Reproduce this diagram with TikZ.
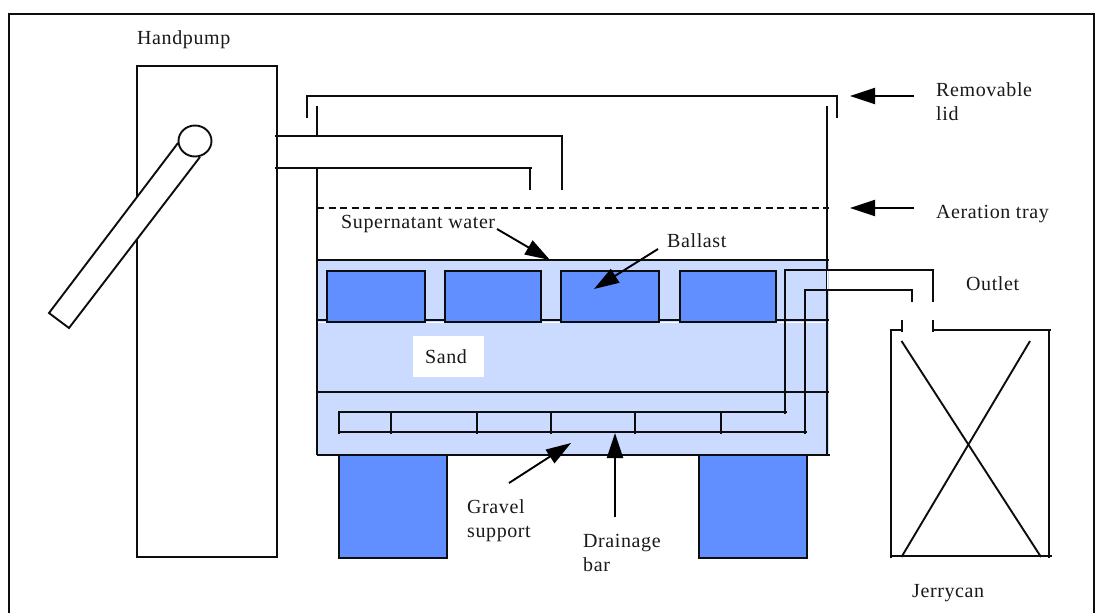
\documentclass[tikz,border=0pt]{standalone}
\usepackage{fontspec}
\setmainfont[LetterSpace=3]{Liberation Serif}
\usetikzlibrary{arrows.meta,shapes.geometric}
\definecolor{lightwater}{RGB}{203,218,255}
\definecolor{deepblue}{RGB}{97,143,255}
\tikzset{
  ln/.style={line width=1.9pt,draw=black!95,line cap=butt,outer sep=0},
  fillbox/.style={ln,fill=deepblue},
  callout/.style={line width=1.9pt,draw=black,-{Triangle[length=25,width=16]}},
  lbl/.style={font=\fontsize{20}{24}\selectfont,inner sep=0,text=black!90,anchor=base west}
}
\begin{document}
\begin{tikzpicture}[x=1pt,y=-1pt]
\useasboundingbox (0,0) rectangle (1103,613);
\fill[white] (0,0) rectangle (1103,613);
% frame
\draw[ln] (9,613) -- (9,14) -- (1094,14) -- (1094,613);
% pump body
\node[ln,draw,minimum width=140,minimum height=491,inner sep=0,anchor=north west] (pump) at (137,66) {};
% handle
\coordinate (ha) at (49,313); \coordinate (hb) at (69,328); \coordinate (hc) at (200,157); \coordinate (hd) at (178,143);
\fill[white] (ha) -- (hb) -- (hc) -- (hd) -- cycle;
\draw[ln] (hd) -- (ha) -- (hb) -- (hc);
\node[ln,draw,ellipse,fill=white,minimum width=33,minimum height=31,inner sep=0] (pivot) at (195,141) {};
% water
\fill[lightwater] (317,260) rectangle (829,455);
% tank
\draw[ln] (317,106) -- (317,137);
\draw[ln] (317,168) -- (317,455);
\draw[ln] (827,106) -- (827,455);
\draw[white,line width=1pt] (827.5,270) -- (827.5,291);
\draw[ln] (317,260) -- (829,260);
\draw[ln] (317,320) -- (829,320);
\draw[white,line width=1.2pt] (318,322.8) -- (826,322.8);
\draw[ln] (317,392) -- (829,392);
\draw[ln] (317,455) -- (830,455);
% lid
\draw[ln] (307,118) -- (307,96) -- (838,96);
\draw[ln] (837,96) -- (837,118);
% inlet
\draw[ln] (275,136) -- (563,136);
\draw[ln] (562,136) -- (562,190);
\draw[ln] (275,168) -- (532,168);
\draw[ln] (530,168) -- (530,190);
% tray
\draw[ln,dash pattern=on 7pt off 4.5pt] (317,208) -- (829,208);
% ballast
\foreach \n/\a/\b in {1/327/425,2/445/541,3/561/659,4/680/776}
  \node[fillbox,minimum width=\b-\a,minimum height=51,inner sep=0,anchor=north west] (bal\n) at (\a,271) {};
% drain
\draw[ln] (339,434) -- (339,412) -- (787,412);
\draw[ln] (785,414) -- (785,270) -- (934,270);
\draw[ln] (933,270) -- (933,302);
\draw[ln] (339,432) -- (807,432);
\draw[ln] (805,434) -- (805,290) -- (913,290);
\draw[ln] (912,290) -- (912,302);
\foreach \x in {391,477,551,635,721} \draw[ln] (\x,412) -- (\x,434);
% legs
\node[fillbox,minimum width=108,minimum height=103,inner sep=0,anchor=north west] (legl) at (339,455) {};
\node[fillbox,minimum width=108,minimum height=103,inner sep=0,anchor=north west] (legr) at (699,455) {};
% jerrycan
\draw[ln] (903,330) -- (891,330) -- (891,558);
\draw[ln] (933,330) -- (1051,330);
\draw[ln] (1049,329) -- (1049,558);
\draw[ln] (890,556) -- (1052,556);
\draw[ln] (902,320) -- (902,332);
\draw[ln] (933,320) -- (933,332);
\draw[ln] (901.5,341) -- (1041,557);
\draw[ln] (1030,341) -- (901.5,557);
% sand label
\node[fill=white,minimum width=71,minimum height=41,inner sep=0,outer sep=0,anchor=north west] (sandbg) at (413,336) {};
\node[lbl] (sand) at (425,363) {Sand};
% callouts
\coordinate (c1) at (914,96); \coordinate (c2) at (850,96);
\coordinate (c3) at (914,208); \coordinate (c4) at (850,208);
\coordinate (c5) at (497,229); \coordinate (c6) at (550,260);
\coordinate (c7) at (658,249); \coordinate (c8) at (594,289);
\coordinate (c9) at (509,483); \coordinate (c10) at (571,443);
\coordinate (c11) at (615,517); \coordinate (c12) at (615,433);
\draw[callout] (c1) -- (c2);
\draw[callout] (c3) -- (c4);
\draw[callout] (c5) -- (c6);
\draw[callout] (c7) -- (c8);
\draw[callout] (c9) -- (c10);
\draw[callout] (c11) -- (c12);
% labels
\node[lbl] (t1) at (137,44) {Handpump};
\node[lbl] (t2) at (936,96) {Removable};
\node[lbl] (t3) at (936,120) {lid};
\node[lbl] (t4) at (936,218) {Aeration tray};
\node[lbl] (t5) at (341,228) {Supernatant water};
\node[lbl] (t6) at (667,247) {Ballast};
\node[lbl] (t7) at (966,290) {Outlet};
\node[lbl] (t8) at (467,513) {Gravel};
\node[lbl] (t9) at (467,537) {support};
\node[lbl] (t10) at (583,547) {Drainage};
\node[lbl] (t11) at (583,571) {bar};
\node[lbl] (t12) at (912,597) {Jerrycan};
\end{tikzpicture}
\end{document}
